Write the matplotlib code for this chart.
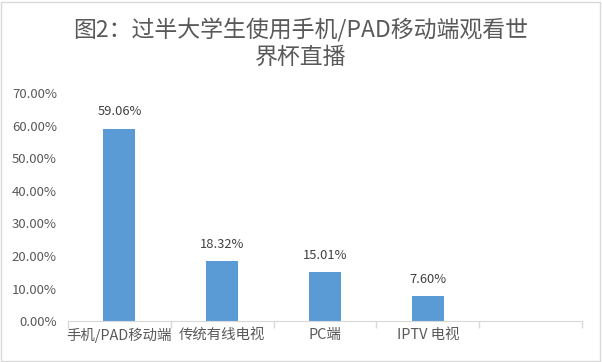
import matplotlib.pyplot as plt
from matplotlib.patches import Rectangle
from matplotlib.ticker import FuncFormatter, MultipleLocator

plt.rcParams['font.family'] = ['Noto Sans CJK SC', 'DejaVu Sans']

categories = ['手机/PAD移动端', '传统有线电视', 'PC端', 'IPTV 电视', '']
values = [59.06, 18.32, 15.01, 7.60]
value_labels = ['59.06%', '18.32%', '15.01%', '7.60%']
title = '图2：过半大学生使用手机/PAD移动端观看世\n界杯直播'

fig = plt.figure(figsize=(6.02, 3.62), dpi=100)
ax = fig.add_axes([0.113, 0.113, 0.854, 0.63])

x = list(range(len(values)))
ax.bar(x, values, width=0.31, color='#5b9bd5')
for xi, v, lab in zip(x, values, value_labels):
    ax.text(xi, v + 3.2, lab, ha='center', va='bottom', fontsize=9.3, color='#404040')

ax.set_xlim(-0.5, len(categories) - 0.5)
ax.set_ylim(0, 70)
ax.yaxis.set_major_locator(MultipleLocator(10))
ax.yaxis.set_major_formatter(FuncFormatter(lambda v, p: '%.2f%%' % v))

ax.set_xticks(range(len(categories)))
ax.set_xticklabels(categories, fontsize=10.4, color='#595959')
ax.set_xticks([i - 0.5 for i in range(len(categories) + 1)], minor=True)
ax.tick_params(axis='x', which='major', length=0, pad=5)
ax.tick_params(axis='x', which='minor', length=5, color='#d9d9d9', width=1)
ax.tick_params(axis='y', length=0, labelsize=9.5, labelcolor='#595959', pad=8)

for s in ['top', 'right', 'left']:
    ax.spines[s].set_visible(False)
ax.spines['bottom'].set_color('#d9d9d9')

fig.text(0.5, 0.948, title, ha='center', va='top', fontsize=16.5, color='#595959',
         linespacing=1.18)

fig.patches.append(Rectangle((0.002, 0.003), 0.995, 0.992, transform=fig.transFigure,
                             fill=False, edgecolor='#d9d9d9', linewidth=1))

fig.savefig('out.png', dpi=100)
